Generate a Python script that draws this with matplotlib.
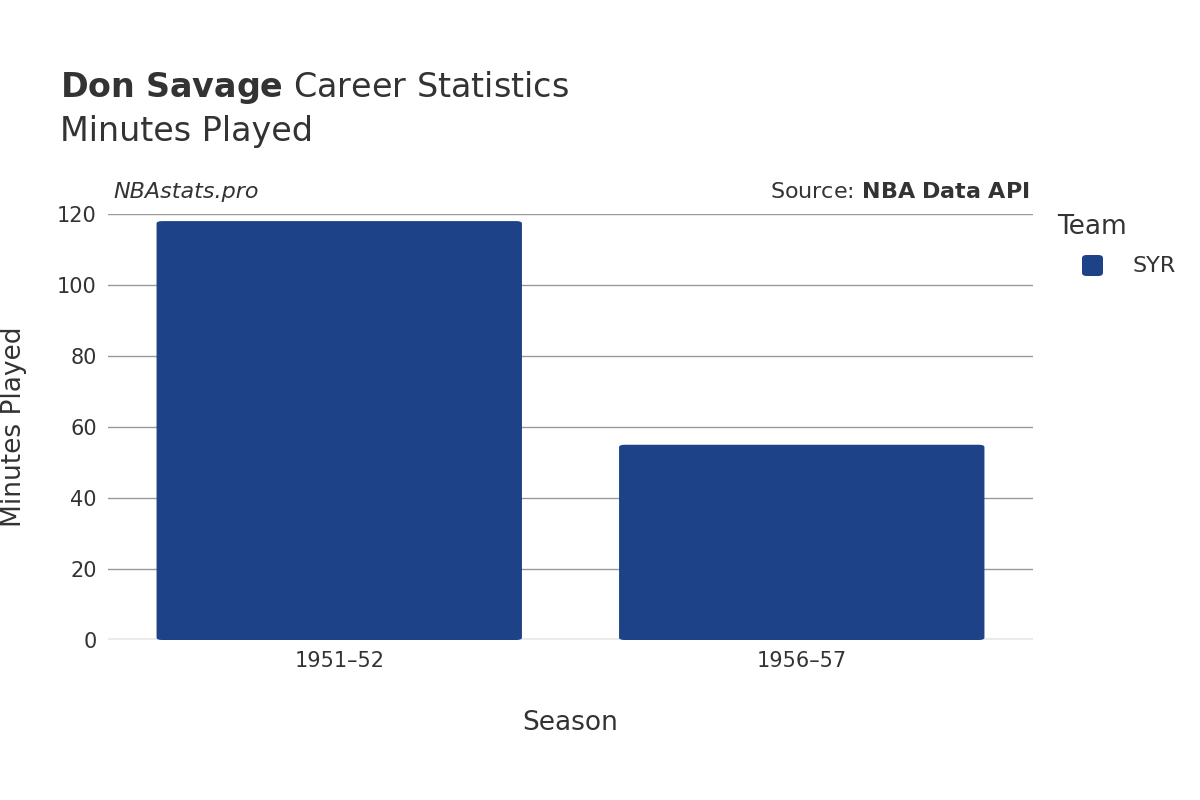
import matplotlib
matplotlib.use("Agg")
import matplotlib.pyplot as plt
from matplotlib.patches import FancyBboxPatch

seasons = ["1951\u201352", "1956\u201357"]
minutes = [118, 55]
team = "SYR"
yticks = [0, 20, 40, 60, 80, 100, 120]
color = "#1d4287"

fig = plt.figure(figsize=(12, 8), dpi=100)
ax = fig.add_axes([108/1200, 1-640/800, (1033-108)/1200, (640-214)/800])
ax.set_xlim(-0.5, len(seasons)-0.5)
ax.set_ylim(0, 120)
for i, v in enumerate(minutes):
    ax.add_patch(FancyBboxPatch((i-0.395, 0), 0.79, v, boxstyle="round,pad=0,rounding_size=0.012",
                                mutation_aspect=120/0.5*426/925*0.5, fc=color, ec="none", zorder=3))
ax.set_yticks(yticks)
ax.set_xticks(range(len(seasons)))
ax.set_xticklabels(seasons)
ax.grid(axis="y", color="#999999", lw=1, zorder=0)
for s in ax.spines.values():
    s.set_visible(False)
ax.axhline(0, color="#ebebeb", lw=3, zorder=2)
ax.tick_params(length=0, labelsize=15, colors="#333333", pad=8)
ax.set_xlabel("Season", fontsize=19, color="#333333", labelpad=28)
ax.set_ylabel("Minutes Played", fontsize=19, color="#333333", labelpad=22)

fig.text(60/1200, 1-88/800, r"$\bf{Don\ Savage}$ Career Statistics", fontsize=24, color="#333333", va="center")
fig.text(60/1200, 1-132/800, "Minutes Played", fontsize=24, color="#333333", va="center")
fig.text(113/1200, 1-192/800, "NBAstats.pro", fontsize=16, style="italic", color="#333333", va="center")
fig.text(1030/1200, 1-192/800, r"Source: $\bf{NBA\ Data\ API}$", fontsize=16, color="#333333", va="center", ha="right")
fig.text(1057/1200, 1-227/800, "Team", fontsize=19, color="#333333", va="center")
fig.patches.append(FancyBboxPatch((1082/1200, 1-276/800), 21/1200, 21/800, boxstyle="round,pad=0,rounding_size=0.004",
                                  transform=fig.transFigure, fc=color, ec="none"))
fig.text(1132/1200, 1-266/800, team, fontsize=16, color="#333333", va="center")
fig.savefig("out.png")
